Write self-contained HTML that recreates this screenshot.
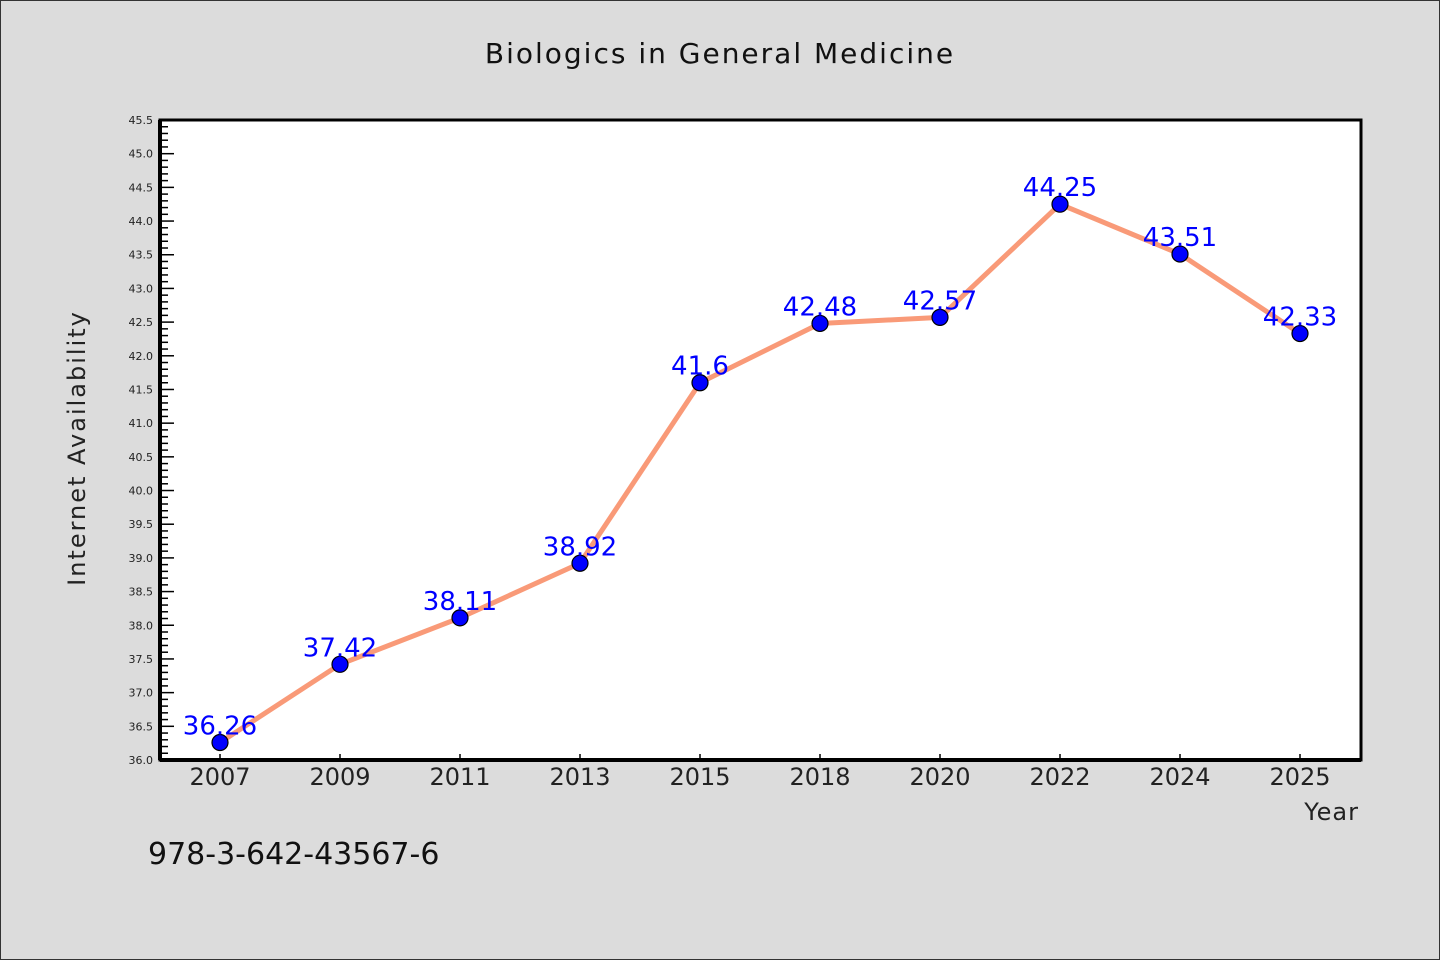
<!DOCTYPE html>
<html><head><meta charset="utf-8"><style>
html,body{margin:0;padding:0;background:#dcdcdc;}
svg{display:block;font-family:"DejaVu Sans","Liberation Sans",sans-serif;}
</style></head><body>
<svg id="chart" width="1440" height="960">
<rect x="0.5" y="0.5" width="1439" height="959" fill="#dcdcdc" stroke="#333"/>
<text x="720" y="63" text-anchor="middle" font-size="28" letter-spacing="2" fill="#111">Biologics in General Medicine</text>
<rect x="160" y="120" width="1201" height="640" fill="#fff" stroke="#000" stroke-width="3"/>
<g id="yaxis"></g>
<g id="xaxis"></g>
<g id="series"></g>
<text transform="translate(85,448) rotate(-90)" text-anchor="middle" font-size="24" letter-spacing="2" fill="#222">Internet Availability</text>
<text x="1359" y="820" text-anchor="end" font-size="24" letter-spacing="1" fill="#222">Year</text>
<text x="148" y="864" font-size="30" fill="#111">978-3-642-43567-6</text>
<line x1="160" y1="120" x2="160" y2="760" stroke="#000" stroke-width="4"/>
<line x1="160" y1="760" x2="1361" y2="760" stroke="#000" stroke-width="4"/>
</svg>
<script>
const categories=["2007","2009","2011","2013","2015","2018","2020","2022","2024","2025"];
const values=[36.26,37.42,38.11,38.92,41.6,42.48,42.57,44.25,43.51,42.33];
const labels=["36.26","37.42","38.11","38.92","41.6","42.48","42.57","44.25","43.51","42.33"];
const yMin=36.0,yMax=45.5;
const NS="http://www.w3.org/2000/svg";
const L=160,R=1361,T=120,B=760;
function y(v){return B-(v-yMin)/(yMax-yMin)*(B-T);}
function x(i){return 220+i*120;}
function mk(tag,attrs,parent){const e=document.createElementNS(NS,tag);for(const k in attrs)e.setAttribute(k,attrs[k]);parent.appendChild(e);return e;}
const ya=document.getElementById('yaxis'),xa=document.getElementById('xaxis'),se=document.getElementById('series');
for(let k=0;k<=95;k++){const v=yMin+k*0.1;const major=k%5===0;
 const t=mk('line',{x1:L,x2:L+(major?14:8),y1:y(v),y2:y(v),stroke:'#000','stroke-width':1.5},ya);
 
 if(major){const tx=mk('text',{x:153,y:y(v)+4,'text-anchor':'end','font-size':11,fill:'#222'},ya);tx.textContent=v.toFixed(1);
 }}
categories.forEach((c,i)=>{
 const t=mk('line',{x1:x(i),x2:x(i),y1:B,y2:B-6,stroke:'#000','stroke-width':1.5},xa);
 
 const tx=mk('text',{x:x(i),y:785,'text-anchor':'middle','font-size':24,fill:'#222'},xa);tx.textContent=c;
 });
const pl=mk('polyline',{points:values.map((v,i)=>x(i)+','+y(v)).join(' '),fill:'none',stroke:'#f99a78','stroke-width':5,'stroke-linejoin':'round'},se);

values.forEach((v,i)=>{
 const c=mk('circle',{cx:x(i),cy:y(v),r:8,fill:'#0000ff',stroke:'#000','stroke-width':1.2},se);
 
 const t=mk('text',{x:x(i),y:y(v)-8,'text-anchor':'middle','font-size':26,fill:'#0000ff'},se);t.textContent=labels[i];
 });
</script>
</body></html>
